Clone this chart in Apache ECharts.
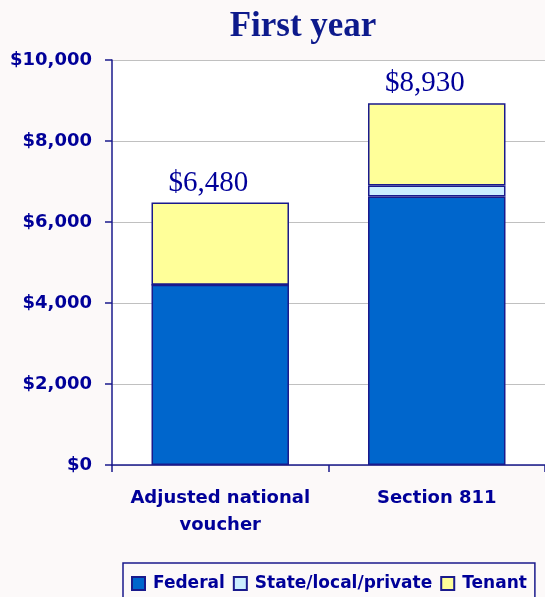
<!DOCTYPE html>
<html>
<head>
<meta charset="utf-8">
<script src="https://cdn.jsdelivr.net/npm/echarts@6/dist/echarts.min.js"></script>
<style>
  html, body { margin: 0; padding: 0; background: #fcf9f9; }
  #chart { width: 545px; height: 597px; }
</style>
</head>
<body>
<div id="chart"></div>
<script>
// data
var categories = ['Adjusted national\nvoucher', 'Section 811'];
var federal = [4450, 6630];
var stateLocal = [0, 270];
var tenant = [2030, 2030];
var totals = [6480, 8930];
var yTicks = [0, 2000, 4000, 6000, 8000, 10000];

var navy = '#000099';
var barBorder = { borderColor: '#1a1a8c', borderWidth: 1.5 };

function money(v) {
  return '$' + v.toLocaleString('en-US');
}

var myChart = echarts.init(document.getElementById('chart'));
var option = {
  backgroundColor: '#fcf9f9',
  animation: false,
  title: {
    text: 'First year',
    left: 298,
    textAlign: 'center',
    top: 4,
    textStyle: {
      fontFamily: 'Liberation Serif',
      fontWeight: 'bold',
      fontSize: 35,
      color: '#0d1a8c'
    }
  },
  legend: {
    left: 123,
    top: 563,
    padding: [12, 8, 12, 8],
    borderColor: '#1a1a8c',
    borderWidth: 1.5,
    itemWidth: 13,
    itemHeight: 13,
    itemGap: 8,
    icon: 'rect',
    textStyle: {
      fontFamily: 'DejaVu Sans',
      fontWeight: 'bold',
      fontSize: 17,
      color: navy,
      padding: [0, 0, 0, 3]
    },
    data: ['Federal', 'State/local/private', 'Tenant']
  },
  grid: {
    left: 112,
    right: 0,
    top: 60,
    bottom: 132,
    show: true,
    backgroundColor: '#ffffff',
    borderWidth: 0
  },
  xAxis: {
    type: 'category',
    data: categories,
    axisLine: { lineStyle: { color: '#1a1a8c', width: 1.5 } },
    axisTick: { show: true, length: 7, lineStyle: { color: '#1a1a8c', width: 1.5 } },
    axisLabel: {
      interval: 0,
      hideOverlap: false,
      margin: 20,
      fontFamily: 'DejaVu Sans',
      fontWeight: 'bold',
      fontSize: 18,
      lineHeight: 27,
      color: navy
    }
  },
  yAxis: {
    type: 'value',
    min: yTicks[0],
    max: yTicks[yTicks.length - 1],
    interval: 2000,
    axisLine: { show: true, lineStyle: { color: '#1a1a8c', width: 1.5 } },
    axisTick: { show: true, length: 7, lineStyle: { color: '#1a1a8c', width: 1.5 } },
    splitLine: { lineStyle: { color: '#c0c0c0', width: 1 } },
    axisLabel: {
      margin: 20,
      fontFamily: 'DejaVu Sans',
      fontWeight: 'bold',
      fontSize: 18,
      color: navy,
      formatter: money
    }
  },
  series: [
    {
      name: 'Federal',
      type: 'bar',
      stack: 'cost',
      barWidth: '63.5%',
      itemStyle: Object.assign({ color: '#0066cc' }, barBorder),
      data: federal
    },
    {
      name: 'State/local/private',
      type: 'bar',
      stack: 'cost',
      itemStyle: Object.assign({ color: '#cceeff' }, barBorder),
      data: stateLocal
    },
    {
      name: 'Tenant',
      type: 'bar',
      stack: 'cost',
      itemStyle: Object.assign({ color: '#ffff99' }, barBorder),
      label: {
        show: true,
        position: 'top',
        distance: 5,
        offset: [-12, 0],
        fontFamily: 'Liberation Serif',
        fontSize: 29,
        color: navy,
        formatter: function (p) { return money(totals[p.dataIndex]); }
      },
      data: tenant
    }
  ]
};

myChart.setOption(option);
window.addEventListener('resize', function () {
  myChart.resize();
});
</script>
</body>
</html>
